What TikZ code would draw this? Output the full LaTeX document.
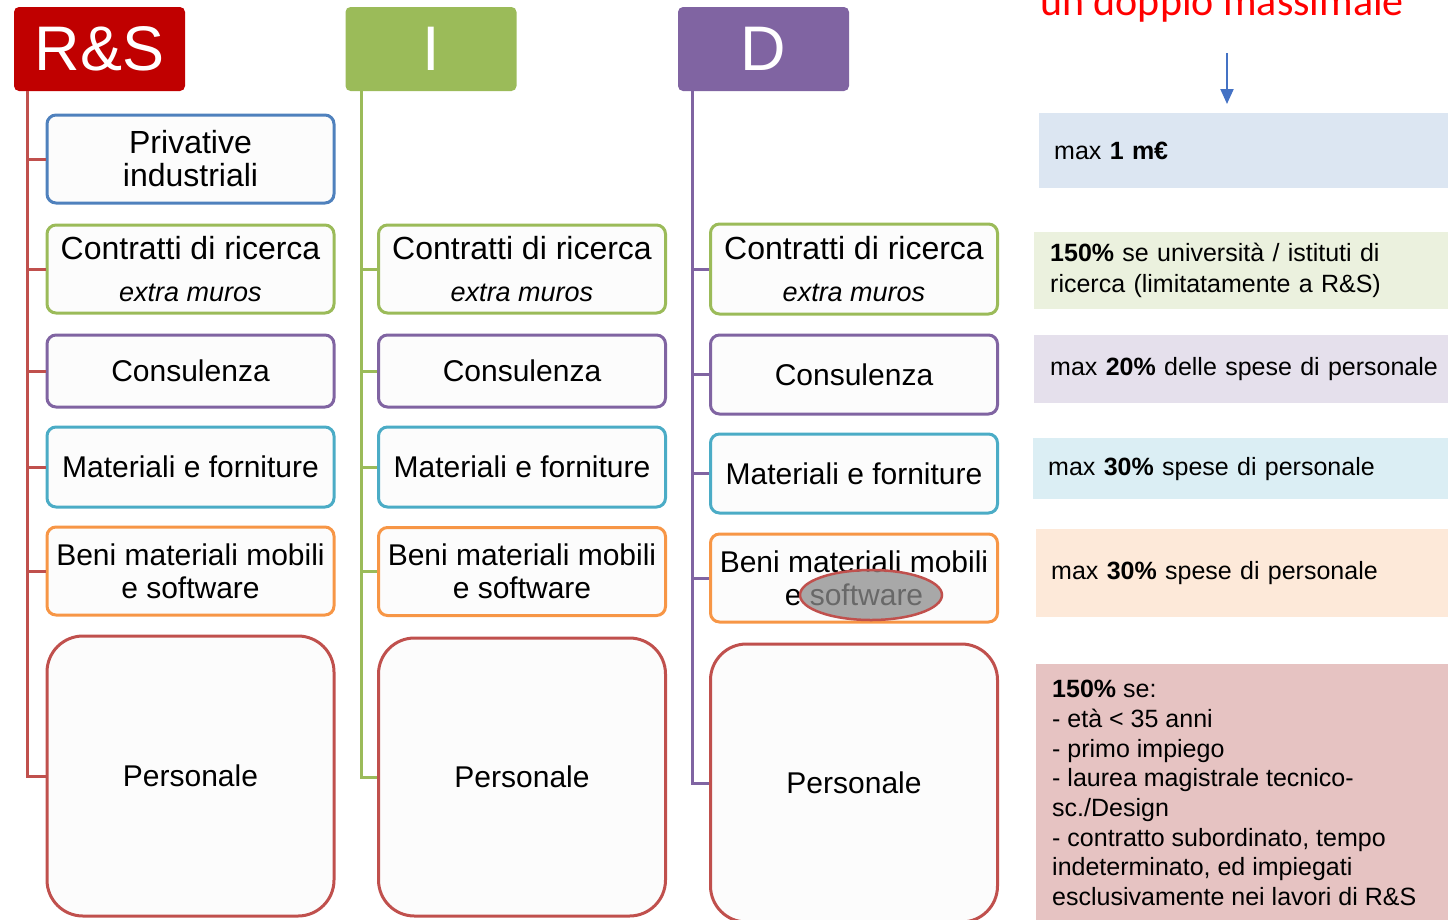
\documentclass[tikz,border=0pt]{standalone}
\usepackage{fontspec}
\setmainfont{Liberation Sans}
\newfontfamily\calfont{Carlito}
\usetikzlibrary{shapes.geometric,arrows.meta,calc}
\definecolor{rsred}{HTML}{C00000}
\definecolor{linered}{HTML}{C0504D}
\definecolor{igreen}{HTML}{9BBB59}
\definecolor{dpurple}{HTML}{8064A2}
\definecolor{ablue}{HTML}{4F81BD}
\definecolor{aqua}{HTML}{4BACC6}
\definecolor{aorange}{HTML}{F79646}
\definecolor{boxfill}{HTML}{FCFCFC}
\definecolor{arrblue}{HTML}{4472C4}
\definecolor{fillA}{HTML}{DCE6F2}
\definecolor{fillB}{HTML}{EBF1DE}
\definecolor{fillC}{HTML}{E5E0EC}
\definecolor{fillD}{HTML}{DBEEF4}
\definecolor{fillE}{HTML}{FDE9D9}
\definecolor{fillF}{HTML}{E6C3C2}
\definecolor{ellgray}{HTML}{8C8C8C}
\newcommand{\contrtext}{{\fontsize{32}{34}\selectfont Contratti di ricerca}\\[9pt]{\fontsize{27}{30}\selectfont\itshape extra muros}}
\newcommand{\benitext}{Beni materiali mobili\\e software}
\tikzset{
  hdr/.style={rectangle, rounded corners=5pt, minimum width=171pt, minimum height=84pt,
    text=white, font=\fontsize{63}{63}\selectfont, inner sep=0pt},
  ibox/.style={rectangle, rounded corners=9pt, draw=#1, line width=3pt, fill=boxfill,
    align=center, inner sep=0pt, minimum width=287pt, font=\fontsize{30}{33}\selectfont},
  pbox/.style={ibox=linered, rounded corners=36pt},
  trunk/.style={line width=3pt, draw=#1},
  rbox/.style={rectangle, fill=#1, anchor=north west, inner xsep=15pt, inner ysep=0pt,
    text width=400pt, align=left, font=\fontsize{25}{31}\selectfont},
}
\begin{document}
\begin{tikzpicture}[x=1pt,y=-1pt]
\useasboundingbox (0,0) rectangle (1448,919);
\clip (0,0) rectangle (1448,919);

% headers
\node[hdr, fill=rsred] (RS) at (99.5,49) {R\&S};
\node[hdr, fill=igreen] (I) at (431,49) {I};
\node[hdr, fill=dpurple] (D) at (763.5,49) {D};

% column 1
\node[ibox=ablue, minimum height=88pt, font=\fontsize{32}{33}\selectfont] (a1) at (190.5,159) {Privative\\industriali};
\node[ibox=igreen, minimum height=88pt] (a2) at (190.5,269) {\contrtext};
\node[ibox=dpurple, minimum height=72pt] (a3) at (190.5,371) {Consulenza};
\node[ibox=aqua, minimum height=80pt] (a4) at (190.5,467) {Materiali e forniture};
\node[ibox=aorange, minimum height=88pt] (a5) at (190.5,571) {\benitext};
\node[pbox, minimum height=280pt] (a6) at (190.5,776) {Personale};

% column 2
\node[ibox=igreen, minimum height=88pt] (b2) at (522,269) {\contrtext};
\node[ibox=dpurple, minimum height=72pt] (b3) at (522,371) {Consulenza};
\node[ibox=aqua, minimum height=80pt] (b4) at (522,467) {Materiali e forniture};
\node[ibox=aorange, minimum height=88pt] (b5) at (522,571.5) {\benitext};
\node[pbox, minimum height=278pt] (b6) at (522,777) {Personale};

% column 3
\node[ibox=igreen, minimum height=90pt] (c2) at (854,269) {\contrtext};
\node[ibox=dpurple, minimum height=79pt] (c3) at (854,374.5) {Consulenza};
\node[ibox=aqua, minimum height=79pt] (c4) at (854,473.5) {Materiali e forniture};
\node[ibox=aorange, minimum height=88pt] (c5) at (854,578) {\benitext};
\node[pbox, minimum height=278pt] (c6) at (854,783) {Personale};

% highlight ellipse
\node[ellipse, draw=linered, line width=2.5pt, fill=ellgray, fill opacity=0.75,
  minimum width=142pt, minimum height=50pt] (ell) at (871,595) {};

% trunks
\coordinate (t1) at ($(RS.south west)+(14,0)$);
\coordinate (t2) at ($(I.south west)+(16,0)$);
\coordinate (t3) at ($(D.south west)+(15,0)$);
\draw[trunk=linered] (t1) |- (a6.west);
\foreach \n in {a1,a2,a3,a4,a5} \draw[trunk=linered] (t1 |- \n.west) -- (\n.west);
\draw[trunk=igreen] (t2) |- (b6.west);
\foreach \n in {b2,b3,b4,b5} \draw[trunk=igreen] (t2 |- \n.west) -- (\n.west);
\draw[trunk=dpurple] (t3) |- (c6.west);
\foreach \n in {c2,c3,c4,c5} \draw[trunk=dpurple] (t3 |- \n.west) -- (\n.west);

% right column
\node[anchor=base west, text=red, font=\calfont\fontsize{42}{42}\selectfont, inner sep=0pt] (dbl) at (1040,15) {un doppio massimale};
\node[rbox=fillA, minimum height=75pt] (r1) at (1039,113) {max \textbf{1 m€}};
\node[rbox=fillB, minimum height=77pt, inner xsep=16pt] (r2) at (1034,232) {\raisebox{-4pt}{\textbf{150\%} se università / istituti di}\\\raisebox{-4pt}{ricerca (limitatamente a R\&S)}};
\node[rbox=fillC, minimum height=68pt, inner xsep=16pt] (r3) at (1034,335) {\raisebox{-2pt}{max \textbf{20\%} delle spese di personale}};
\node[rbox=fillD, minimum height=61pt] (r4) at (1033,438) {max \textbf{30\%} spese di personale};
\node[rbox=fillE, minimum height=88pt] (r5) at (1036,529) {max \textbf{30\%} spese di personale};
\node[rbox=fillF, minimum height=270pt] (r6) at (1036,664) {};
\node[anchor=north west, inner sep=0pt, align=left, font=\fontsize{25}{29.7}\selectfont] (r6t) at (1052,680)
  {\textbf{150\%} se:\\- età < 35 anni\\- primo impiego\\- laurea magistrale tecnico-\\sc./Design\\- contratto subordinato, tempo\\indeterminato, ed impiegati\\esclusivamente nei lavori di R\&S};

\coordinate (arrtop) at (1227,53);
\draw[arrblue, line width=2pt, -{Triangle[width=13pt,length=15pt]}, shorten >=9pt] (arrtop) -- (arrtop |- r1.north);
\end{tikzpicture}
\end{document}
